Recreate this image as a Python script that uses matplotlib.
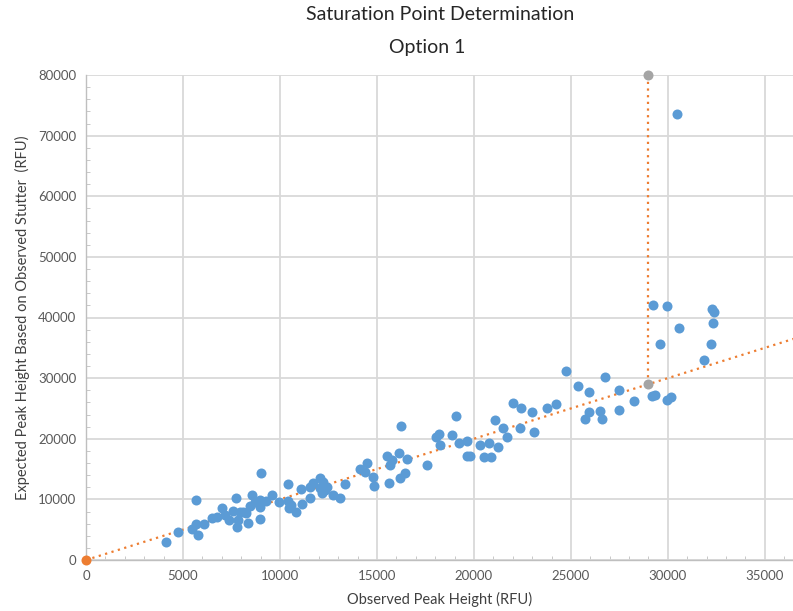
import matplotlib.pyplot as plt
from matplotlib.ticker import MultipleLocator

plt.rcParams['font.family'] = ['Lato', 'DejaVu Sans']

# observed peak height (x) vs expected peak height from stutter (y), RFU
observed = [4124, 4768, 5464, 5670, 5670, 5774, 6083, 6480, 6738, 6995,
            7165, 7372, 7578, 7758, 7769, 7861, 7939, 8109, 8274, 8377,
            8454, 8573, 8712, 8970, 9006, 8970, 8995, 9295, 9604, 9949,
            10429, 10429, 10480, 10552, 10826, 11119, 11083, 11573, 11573, 11702,
            12063, 12150, 12233, 12320, 12408, 12063, 12733, 13094, 13367, 14125,
            14501, 14382, 14779, 14846, 15532, 15671, 15800, 16151, 16223, 16187,
            15609, 16444, 16573, 17563, 18043, 18213, 18249, 18867, 19074, 19218,
            19625, 19625, 19795, 20311, 20517, 20790, 20862, 21264, 21084, 21512,
            21687, 21996, 22409, 22373, 22976, 23110, 23780, 24229, 24754, 25388,
            25734, 25919, 25940, 26497, 26615, 26765, 27502, 27476, 28249, 29332,
            29177, 29935, 30157, 29590, 30482, 29229, 29935, 32255, 32373, 32337,
            30569, 32204, 31858]
expected = [3019, 4619, 5113, 9897, 5938, 4124, 5856, 6977, 7093, 8495,
            7423, 6598, 8083, 10177, 5493, 6598, 8000, 7967, 7786, 6153,
            8907, 10804, 9617, 6730, 14351, 8792, 9815, 9765, 10804, 9567,
            12503, 9732, 8528, 8990, 7967, 9204, 11629, 10227, 12041, 12750,
            13493, 11002, 12784, 11547, 12091, 11827, 10722, 10194, 12503, 14977,
            16050, 14565, 13641, 12206, 17237, 15670, 16495, 17699, 22136, 13608,
            12701, 14301, 16660, 15670, 20289, 20784, 18887, 20668, 23753, 19266,
            19662, 17122, 17122, 19019, 16957, 19266, 16957, 18639, 23175, 21691,
            20322, 25946, 25072, 21691, 24363, 21064, 25039, 25732, 31176, 28701,
            23208, 24413, 27712, 24627, 23340, 30235, 28042, 24743, 26178, 27217,
            27134, 26392, 26837, 35629, 73518, 42062, 41897, 41402, 40908, 39093,
            38219, 35679, 33040]

# trendline and saturation marker
trend_x = [0, 36500]
trend_y = [0, 36500]
origin_x, origin_y = [0], [0]
sat_x = [29000, 29000]
sat_y = [29000, 80000]

fig = plt.figure(figsize=(7.93, 6.11), dpi=100)
ax = fig.add_axes([86 / 793, 51 / 611, 707 / 793, 485 / 611])

ax.plot(trend_x, trend_y, color='#ED7D31', linestyle=(0, (1, 2)), linewidth=1.6, zorder=2)
ax.plot(sat_x, sat_y, color='#ED7D31', linestyle=(0, (1, 2)), linewidth=1.6, zorder=2, clip_on=False)
ax.scatter(observed, expected, s=52, color='#5B9BD5', zorder=3, linewidths=0)
ax.scatter(sat_x, sat_y, s=52, color='#A5A5A5', zorder=4, linewidths=0, clip_on=False)
ax.scatter(origin_x, origin_y, s=52, color='#ED7D31', zorder=4, linewidths=0, clip_on=False)

ax.set_xlim(0, 36450)
ax.set_ylim(0, 80000)
ax.xaxis.set_major_locator(MultipleLocator(5000))
ax.yaxis.set_major_locator(MultipleLocator(10000))
ax.xaxis.set_minor_locator(MultipleLocator(1000))
ax.yaxis.set_minor_locator(MultipleLocator(2000))
ax.grid(True, which='major', color='#D9D9D9', linewidth=1.3)
ax.set_axisbelow(True)

for side in ['top', 'right']:
    ax.spines[side].set_visible(False)
for side in ['left', 'bottom']:
    ax.spines[side].set_color('#BFBFBF')
    ax.spines[side].set_linewidth(1.0)

ax.tick_params(which='major', length=0, labelsize=9.5, labelcolor='#595959', pad=7)
ax.tick_params(which='minor', direction='in', length=3, color='#BFBFBF')

ax.set_xlabel('Observed Peak Height (RFU)', fontsize=10.5, color='#404040', labelpad=7)
ax.set_ylabel('Expected Peak Height Based on Observed Stutter  (RFU)', fontsize=10.5,
              color='#404040', labelpad=6)

# white box behind the subtitle hides part of the top gridline, as in the source
fig.patches.append(plt.Rectangle((370 / 793, 1 - 75 / 611), 128 / 793, 40 / 611,
                                 transform=fig.transFigure, facecolor='white',
                                 edgecolor='none', zorder=5))
fig.text(440 / 793, 1 - 15 / 611, 'Saturation Point Determination', fontsize=14,
         color='#262626', ha='center', va='center', zorder=6)
fig.text(427 / 793, 1 - 48 / 611, 'Option 1', fontsize=14, color='#262626',
         ha='center', va='center', zorder=6)

fig.savefig('out.png', dpi=100)
